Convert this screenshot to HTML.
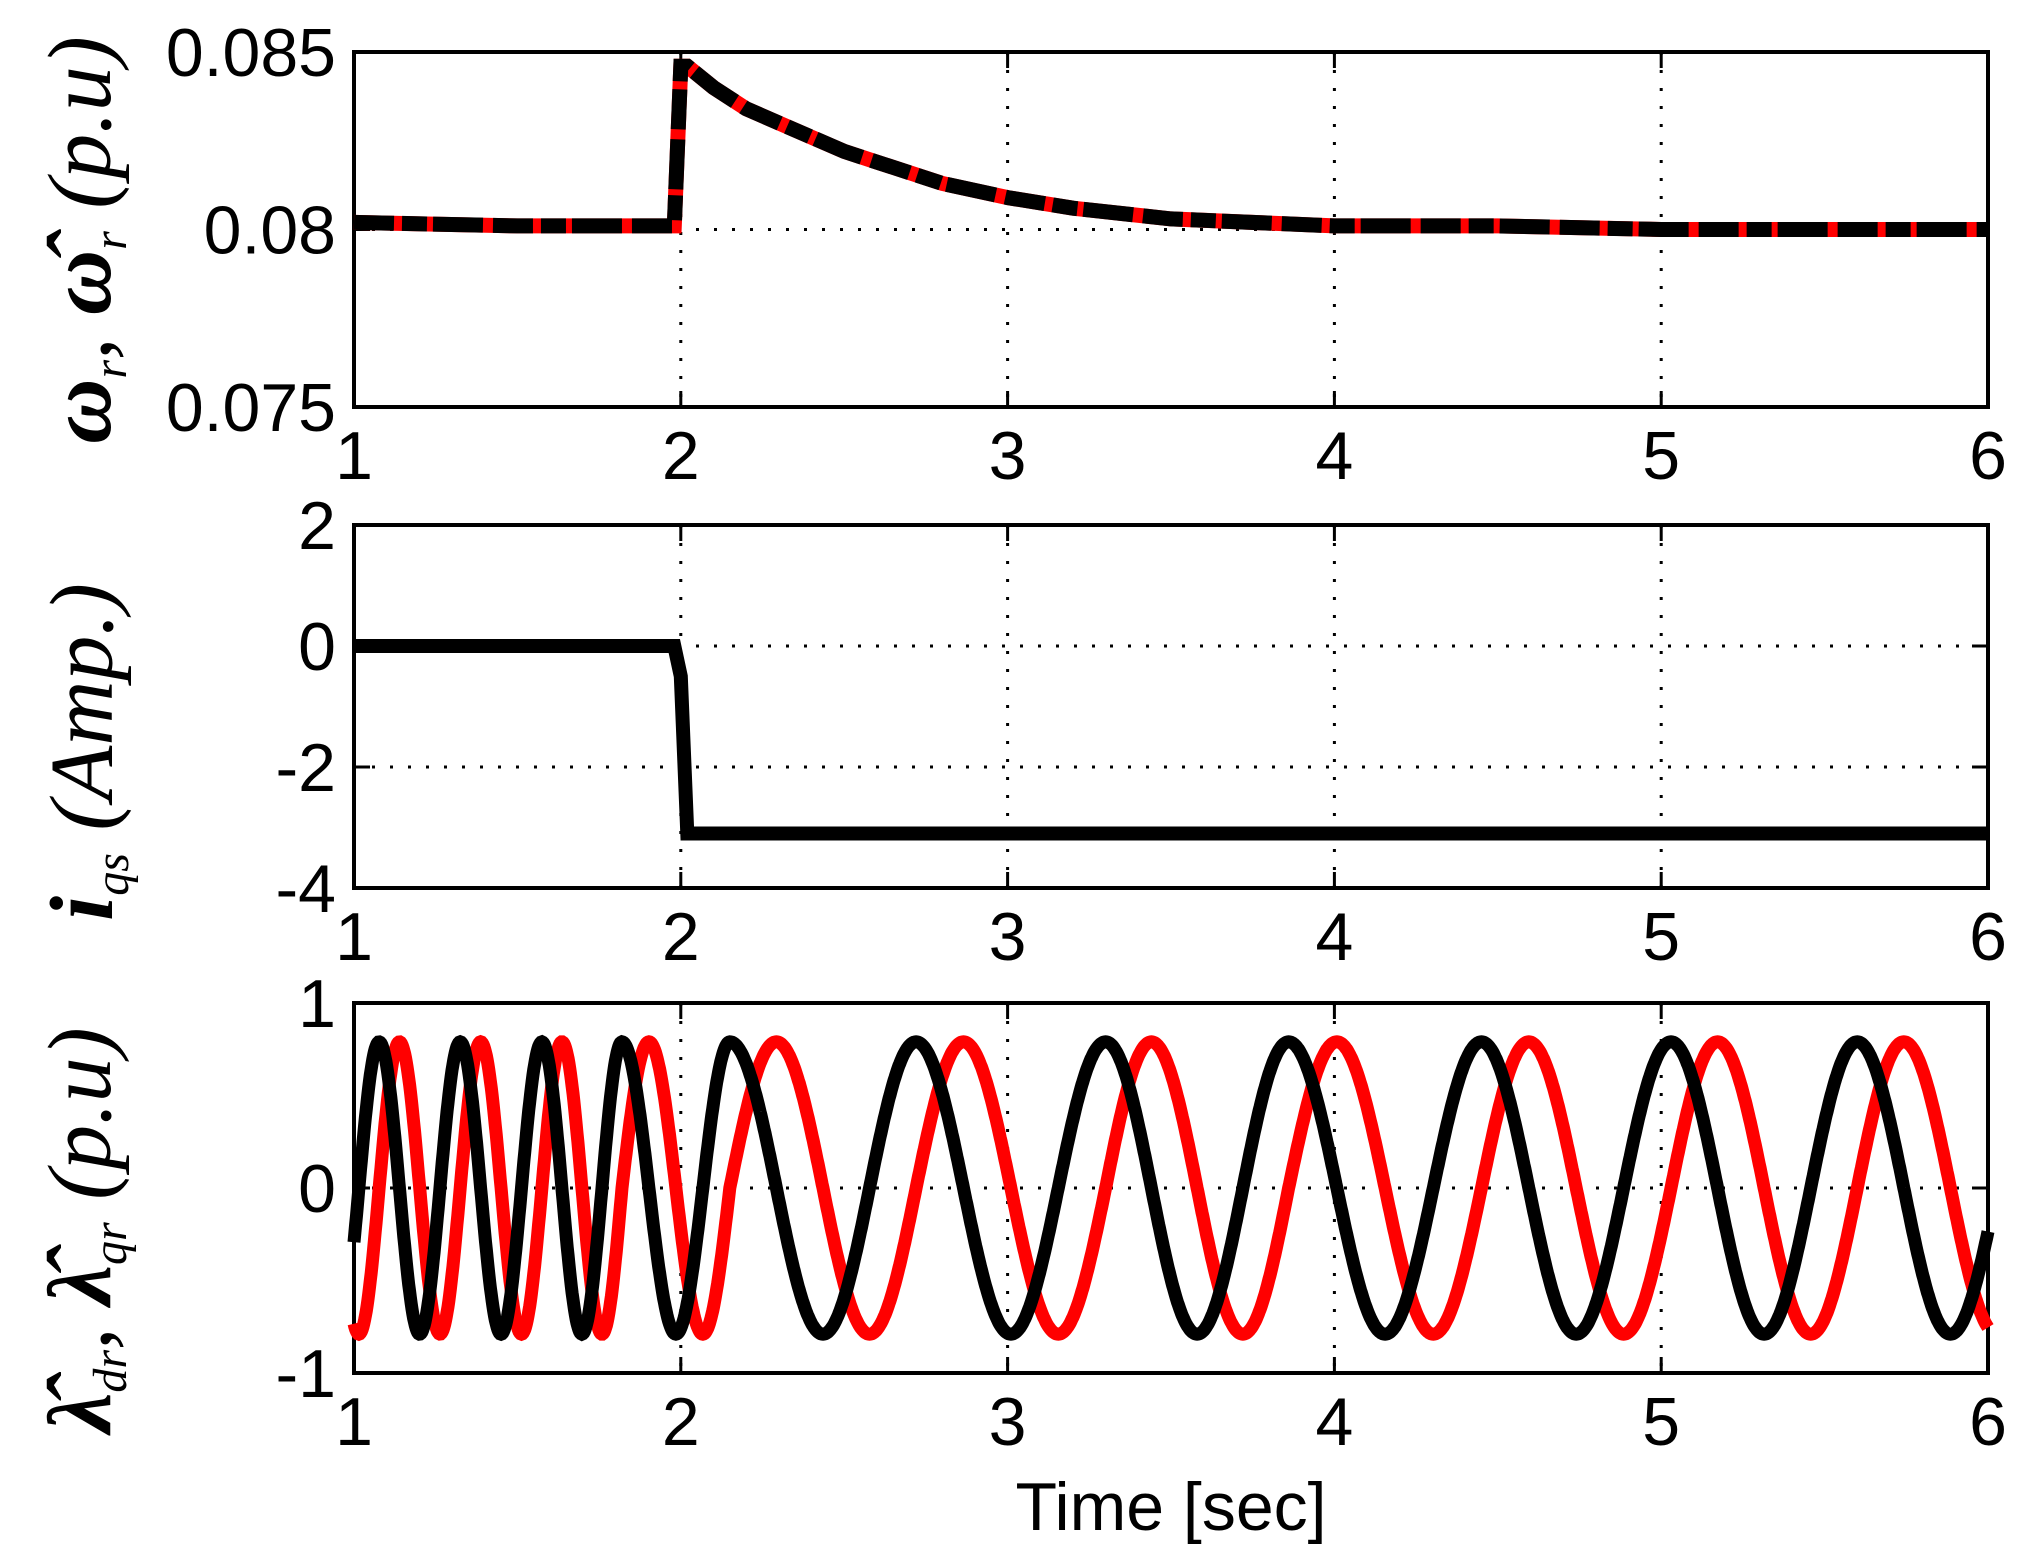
<!DOCTYPE html>
<html><head><meta charset="utf-8"><style>
html,body{margin:0;padding:0;background:#fff;width:2028px;height:1560px;overflow:hidden}
svg{display:block}
.tk{font-family:"Liberation Sans",sans-serif;font-size:68px;fill:#000}
.yl{font-family:"Liberation Serif",serif;font-style:italic;font-size:90px;fill:#000}
</style></head><body>
<svg id="fig" width="2028" height="1560" viewBox="0 0 2028 1560" xmlns="http://www.w3.org/2000/svg"></svg>
<script>
// ---- data ----
const xTicks = [1, 2, 3, 4, 5, 6];
const p1YTicks = [0.075, 0.08, 0.085];
const p1YTickLabels = ["0.075", "0.08", "0.085"];
const p1Times = [1.0, 1.5, 1.98, 2.0, 2.02, 2.1, 2.2, 2.3, 2.4, 2.5, 2.6, 2.8, 3.0, 3.2, 3.5, 4.0, 4.5, 5.0, 6.0];
const p1Speed = [0.0802, 0.0801, 0.0801, 0.0846, 0.0846, 0.0840, 0.0834, 0.0830, 0.0826, 0.0822, 0.0819, 0.0813, 0.0809, 0.0806, 0.0803, 0.0801, 0.0801, 0.0800, 0.0800];
const p2YTicks = [-4, -2, 0, 2];
const p2YTickLabels = ["-4", "-2", "0", "2"];
const p2Times = [1.0, 1.98, 2.0, 2.02, 6.0];
const p2Current = [0.0, 0.0, -0.5, -3.1, -3.1];
const p3YTicks = [-1, 0, 1];
const p3YTickLabels = ["-1", "0", "1"];
const p3BlackPeakTimes = [1.077, 1.325, 1.575, 1.82, 2.15, 2.72, 3.30, 3.86, 4.45, 5.03, 5.60];
const p3Amplitude = [0.79];

// ---- layout ----
const NS = "http://www.w3.org/2000/svg";
const svg = document.getElementById("fig");
const X0 = 354, X1 = 1988;
const panels = [
  {name:"speed", top:52, bot:407, ymin:0.075, ymax:0.085},
  {name:"current", top:525, bot:888, ymin:-4, ymax:2},
  {name:"flux", top:1003, bot:1373, ymin:-1, ymax:1}
];
function xs(t){ return X0 + (t - 1) / 5 * (X1 - X0); }
function ysF(p){ return v => p.bot - (v - p.ymin) / (p.ymax - p.ymin) * (p.bot - p.top); }
function mk(tag, attrs, parent){ const e = document.createElementNS(NS, tag); for (const k in attrs) e.setAttribute(k, attrs[k]); (parent||svg).appendChild(e); return e; }

function axes(p, idx, yTicks, yLabels, hGrid){
  const ys = ysF(p);
  const g = mk("g", {});
  
  
  xTicks.slice(1, -1).forEach(t => {
    const l = mk("line", {x1:xs(t), x2:xs(t), y1:p.top, y2:p.bot, stroke:"#000", "stroke-width":3, "stroke-dasharray":"3 15"}, g);
    
    
  });
  hGrid.forEach(v => {
    const l = mk("line", {x1:X0, x2:X1, y1:ys(v), y2:ys(v), stroke:"#000", "stroke-width":3, "stroke-dasharray":"3 15"}, g);
    
    
  });
  xTicks.forEach(t => {
    mk("line", {x1:xs(t), x2:xs(t), y1:p.bot, y2:p.bot - 16, stroke:"#000", "stroke-width":3}, g);
    mk("line", {x1:xs(t), x2:xs(t), y1:p.top, y2:p.top + 16, stroke:"#000", "stroke-width":3}, g);
    const tx = mk("text", {x:xs(t), y:p.bot + 72, "text-anchor":"middle", class:"tk"}, g);
    tx.textContent = String(t);
    
    
  });
  yTicks.forEach((v, i) => {
    mk("line", {x1:X0, x2:X0 + 16, y1:ys(v), y2:ys(v), stroke:"#000", "stroke-width":3}, g);
    mk("line", {x1:X1, x2:X1 - 16, y1:ys(v), y2:ys(v), stroke:"#000", "stroke-width":3}, g);
    const tx = mk("text", {x:X0 - 18, y:ys(v) + 24, "text-anchor":"end", class:"tk"}, g);
    tx.textContent = yLabels[i];
    
    
  });
  const fr = mk("rect", {x:X0, y:p.top, width:X1 - X0, height:p.bot - p.top, fill:"none", stroke:"#000", "stroke-width":4}, g);
  
  
  return g;
}
function pathFrom(ts, vs, ys){ return ts.map((t, i) => (i ? "L" : "M") + xs(t).toFixed(1) + " " + ys(vs[i]).toFixed(1)).join(" "); }

// panel 1
const g1 = axes(panels[0], 0, p1YTicks, p1YTickLabels, [0.08]);
const ys1 = ysF(panels[0]);
const d1 = pathFrom(p1Times, p1Speed, ys1);
const r1 = mk("path", {d:d1, fill:"none", stroke:"#f00", "stroke-width":15}, g1);


const b1 = mk("path", {d:d1, fill:"none", stroke:"#000", "stroke-width":15, "stroke-dasharray":"40 8 25 6 50 10"}, g1);



// panel 2
const g2 = axes(panels[1], 1, p2YTicks, p2YTickLabels, [0, -2]);
const ys2 = ysF(panels[1]);
const b2 = mk("path", {d:pathFrom(p2Times, p2Current, ys2), fill:"none", stroke:"#000", "stroke-width":14}, g2);



// panel 3
const g3 = axes(panels[2], 2, p3YTicks, p3YTickLabels, [0]);
const ys3 = ysF(panels[2]);
function phaseAt(t){
  const pk = p3BlackPeakTimes; let i = 0;
  if (t <= pk[0]) { const per = pk[1] - pk[0]; return 2 * Math.PI * (t - pk[0]) / per; }
  while (i < pk.length - 2 && t > pk[i + 1]) i++;
  const per = pk[i + 1] - pk[i];
  return 2 * Math.PI * (i + (t - pk[i]) / per);
}
const A = p3Amplitude[0];
let dB = "", dR = "";
for (let k = 0; k <= 2000; k++) {
  const t = 1 + 5 * k / 2000, ph = phaseAt(t);
  const xp = xs(t).toFixed(1);
  dB += (k ? "L" : "M") + xp + " " + ys3(A * Math.cos(ph)).toFixed(1);
  dR += (k ? "L" : "M") + xp + " " + ys3(A * Math.sin(ph)).toFixed(1);
}
const r3 = mk("path", {d:dR, fill:"none", stroke:"#f00", "stroke-width":13}, g3);


const b3 = mk("path", {d:dB, fill:"none", stroke:"#000", "stroke-width":13}, g3);



// labels
function ylab(cx, cy, html, name){
  const t = mk("text", {x:0, y:0, "text-anchor":"middle", class:"yl", transform:"translate(" + cx + "," + cy + ") rotate(-90)"});
  t.innerHTML = html;
  
  
}
ylab(110, 240, '<tspan font-weight="bold">ω</tspan><tspan font-size="48" dy="16">r</tspan><tspan dy="-16">,  </tspan><tspan font-weight="bold">ω̂</tspan><tspan font-size="48" dy="16">r</tspan><tspan dy="-16">   (p.u)</tspan>', 'y-axis-title-speed');
ylab(112, 752, '<tspan font-weight="bold">i</tspan><tspan font-size="48" dy="16">qs</tspan><tspan dy="-16">   (Amp.)</tspan>', 'y-axis-title-current');
ylab(110, 1230, '<tspan font-weight="bold">λ̂</tspan><tspan font-size="48" dy="16">dr</tspan><tspan dy="-16">,  </tspan><tspan font-weight="bold">λ̂</tspan><tspan font-size="48" dy="16">qr</tspan><tspan dy="-16">   (p.u)</tspan>', 'y-axis-title-flux');
const xl = mk("text", {x:1171, y:1530, "text-anchor":"middle", class:"tk"});
xl.textContent = "Time [sec]";


</script>
</body></html>
